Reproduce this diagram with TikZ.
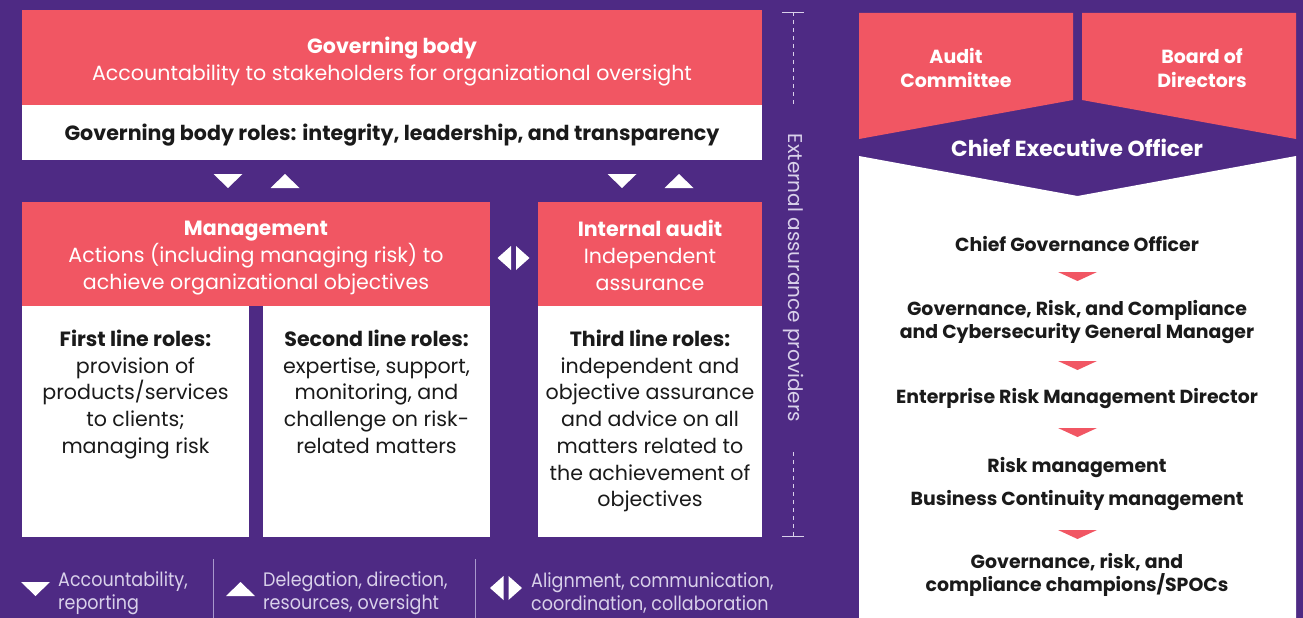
\documentclass[tikz,border=0pt]{standalone}
\usepackage{fontspec}
\setmainfont{Poppins}
\newfontfamily\condfont[FakeStretch=0.9]{Poppins}
\definecolor{bgpurple}{HTML}{4E2A84}
\definecolor{coral}{HTML}{F15663}
\definecolor{ink}{HTML}{1A1A1A}
\definecolor{lav}{HTML}{D9D1EA}
\definecolor{sepline}{HTML}{A898CC}
\tikzset{
  redbox/.style={fill=coral,draw=none,inner sep=0pt,text=white,align=center},
  whitebox/.style={fill=white,draw=none,inner sep=0pt,text=ink,align=center},
  maintext/.style={font=\fontsize{20.6}{27}\selectfont},
  roletext/.style={text=ink,align=center,inner sep=0pt,anchor=north,font=\fontsize{20.6}{26.7}\selectfont},
  chaintext/.style={text=ink,align=center,inner sep=0pt,font=\bfseries\fontsize{18.9}{22.5}\selectfont},
  legtext/.style={text=lav,align=left,anchor=west,inner sep=0pt,font=\condfont\fontsize{19.5}{23}\selectfont},
  tdown/.pic={\fill (-14.5,-7) -- (14.5,-7) -- (0,7) -- cycle;},
  tup/.pic={\fill (-14.5,7) -- (14.5,7) -- (0,-7) -- cycle;},
  tdouble/.pic={\fill (-2.5,-12) -- (-2.5,12) -- (-16,0) -- cycle; \fill (2.5,-12) -- (2.5,12) -- (16,0) -- cycle;},
  chev/.pic={\fill (-19.5,-4.5) -- (19.5,-4.5) -- (0,4.5) -- cycle;}
}
\begin{document}
\begin{tikzpicture}[x=1pt,y=-1pt]
\fill[bgpurple] (0,0) rectangle (1303,618);
\useasboundingbox (0,0) rectangle (1303,618);

% ---------- left panel ----------
\node[redbox,minimum width=740pt,minimum height=95pt] (gb) at (392,57.5) {};
\node[redbox,maintext] (gbt) at (392,61.5)
  {\textbf{Governing body}\\Accountability to stakeholders for organizational oversight};
\node[whitebox,minimum width=740pt,minimum height=55pt] (gbr) at (392,132.5) {};
\node[whitebox,maintext] (gbrt) at (392,135.5)
  {\textbf{Governing body roles: integrity, leadership, and transparency}};

\node[redbox,minimum width=468pt,minimum height=104pt] (mgmt) at (256,254) {};
\node[redbox,maintext] (mgmtt) at (256,258)
  {\textbf{Management}\\Actions (including managing risk) to\\achieve organizational objectives};
\node[redbox,minimum width=224pt,minimum height=104pt] (ia) at (650,254) {};
\node[redbox,maintext] (iat) at (650,255)
  {\textbf{Internal audit}\\Independent\\assurance};

\node[whitebox,minimum width=227pt,minimum height=231pt] (fl) at (135.5,421.5) {};
\node[whitebox,minimum width=227pt,minimum height=231pt] (sl) at (376.5,421.5) {};
\node[whitebox,minimum width=224pt,minimum height=231pt] (tl) at (650,421.5) {};

\node[roletext] (flt) at ([yshift=-24pt]fl.north)
  {\textbf{First line roles:}\\provision of\\products/services\\to clients;\\managing risk};
\node[roletext] (slt) at ([yshift=-24pt]sl.north)
  {\textbf{Second line roles:}\\expertise, support,\\monitoring, and\\challenge on risk-\\related matters};
\node[roletext] (tlt) at ([yshift=-24pt]tl.north)
  {\textbf{Third line roles:}\\independent and\\objective assurance\\and advice on all\\matters related to\\the achievement of\\objectives};

% arrows between levels
\pic[white] at (228,181) {tdown};
\pic[white] at (285,181) {tup};
\pic[white] at (622,181) {tdown};
\pic[white] at (679,181) {tup};
\pic[white] at (513.5,258) {tdouble};

% external assurance providers
\coordinate (e1) at (793,12);
\coordinate (e2) at (793,106);
\coordinate (e3) at (793,452);
\coordinate (e4) at (793,536);
\draw[lav,line width=0.9pt,dash pattern=on 4pt off 4pt] (e1) -- (e2);
\draw[lav,line width=0.9pt,dash pattern=on 4pt off 4pt] (e3) -- (e4);
\draw[lav,line width=0.9pt] ([xshift=-11pt]e1) -- ([xshift=11pt]e1);
\draw[lav,line width=0.9pt] ([xshift=-11pt]e4) -- ([xshift=11pt]e4);
\node[rotate=-90,text=lav,inner sep=0pt,font=\fontsize{20}{22}\selectfont] (ext) at (793,278) {External assurance providers};

% legend
\pic[white] at (35.5,589) {tdown};
\node[legtext] (l1) at (58,593) {Accountability,\\reporting};
\draw[sepline,line width=0.9pt] (213,559) -- (213,618);
\pic[white] at (240.5,589) {tup};
\node[legtext] (l2) at (263,593) {Delegation, direction,\\resources, oversight};
\draw[sepline,line width=0.9pt] (475,559) -- (475,618);
\pic[white] at (506,588) {tdouble};
\node[legtext] (l3) at (531,593) {Alignment, communication,\\coordination, collaboration};

% ---------- right panel ----------
\fill[coral] (859,13) -- (1073,13) -- (1073,100) -- (859,139) -- cycle;
\fill[coral] (1082,13) -- (1296,13) -- (1296,139) -- (1082,100) -- cycle;
\fill[white] (859,156) -- (1077.5,196) -- (1296,156) -- (1296,618) -- (859,618) -- cycle;
\node[text=white,align=center,inner sep=0pt,font=\bfseries\fontsize{19}{24}\selectfont] (ac) at (956,68) {Audit\\Committee};
\node[text=white,align=center,inner sep=0pt,font=\bfseries\fontsize{19}{24}\selectfont] (bod) at (1202,68) {Board of\\Directors};
\node[text=white,inner sep=0pt,font=\bfseries\fontsize{21.8}{24}\selectfont] (ceo) at (1077,148) {Chief Executive Officer};

\node[chaintext] (cgo) at (1077,244) {Chief Governance Officer};
\node[chaintext] (grc) at (1077,322) {Governance, Risk, and Compliance\\and Cybersecurity General Manager};
\node[chaintext] (erm) at (1077,399) {Enterprise Risk Management Director};
\node[chaintext] (rm) at (1077,468) {Risk management};
\node[chaintext] (bcm) at (1077,501) {Business Continuity management};
\node[chaintext] (champ) at (1077,575) {Governance, risk, and\\compliance champions/SPOCs};
\pic[coral] at (1077.5,276.5) {chev};
\pic[coral] at (1077.5,365.5) {chev};
\pic[coral] at (1077.5,432.5) {chev};
\pic[coral] at (1077.5,534.5) {chev};
\end{tikzpicture}
\end{document}
